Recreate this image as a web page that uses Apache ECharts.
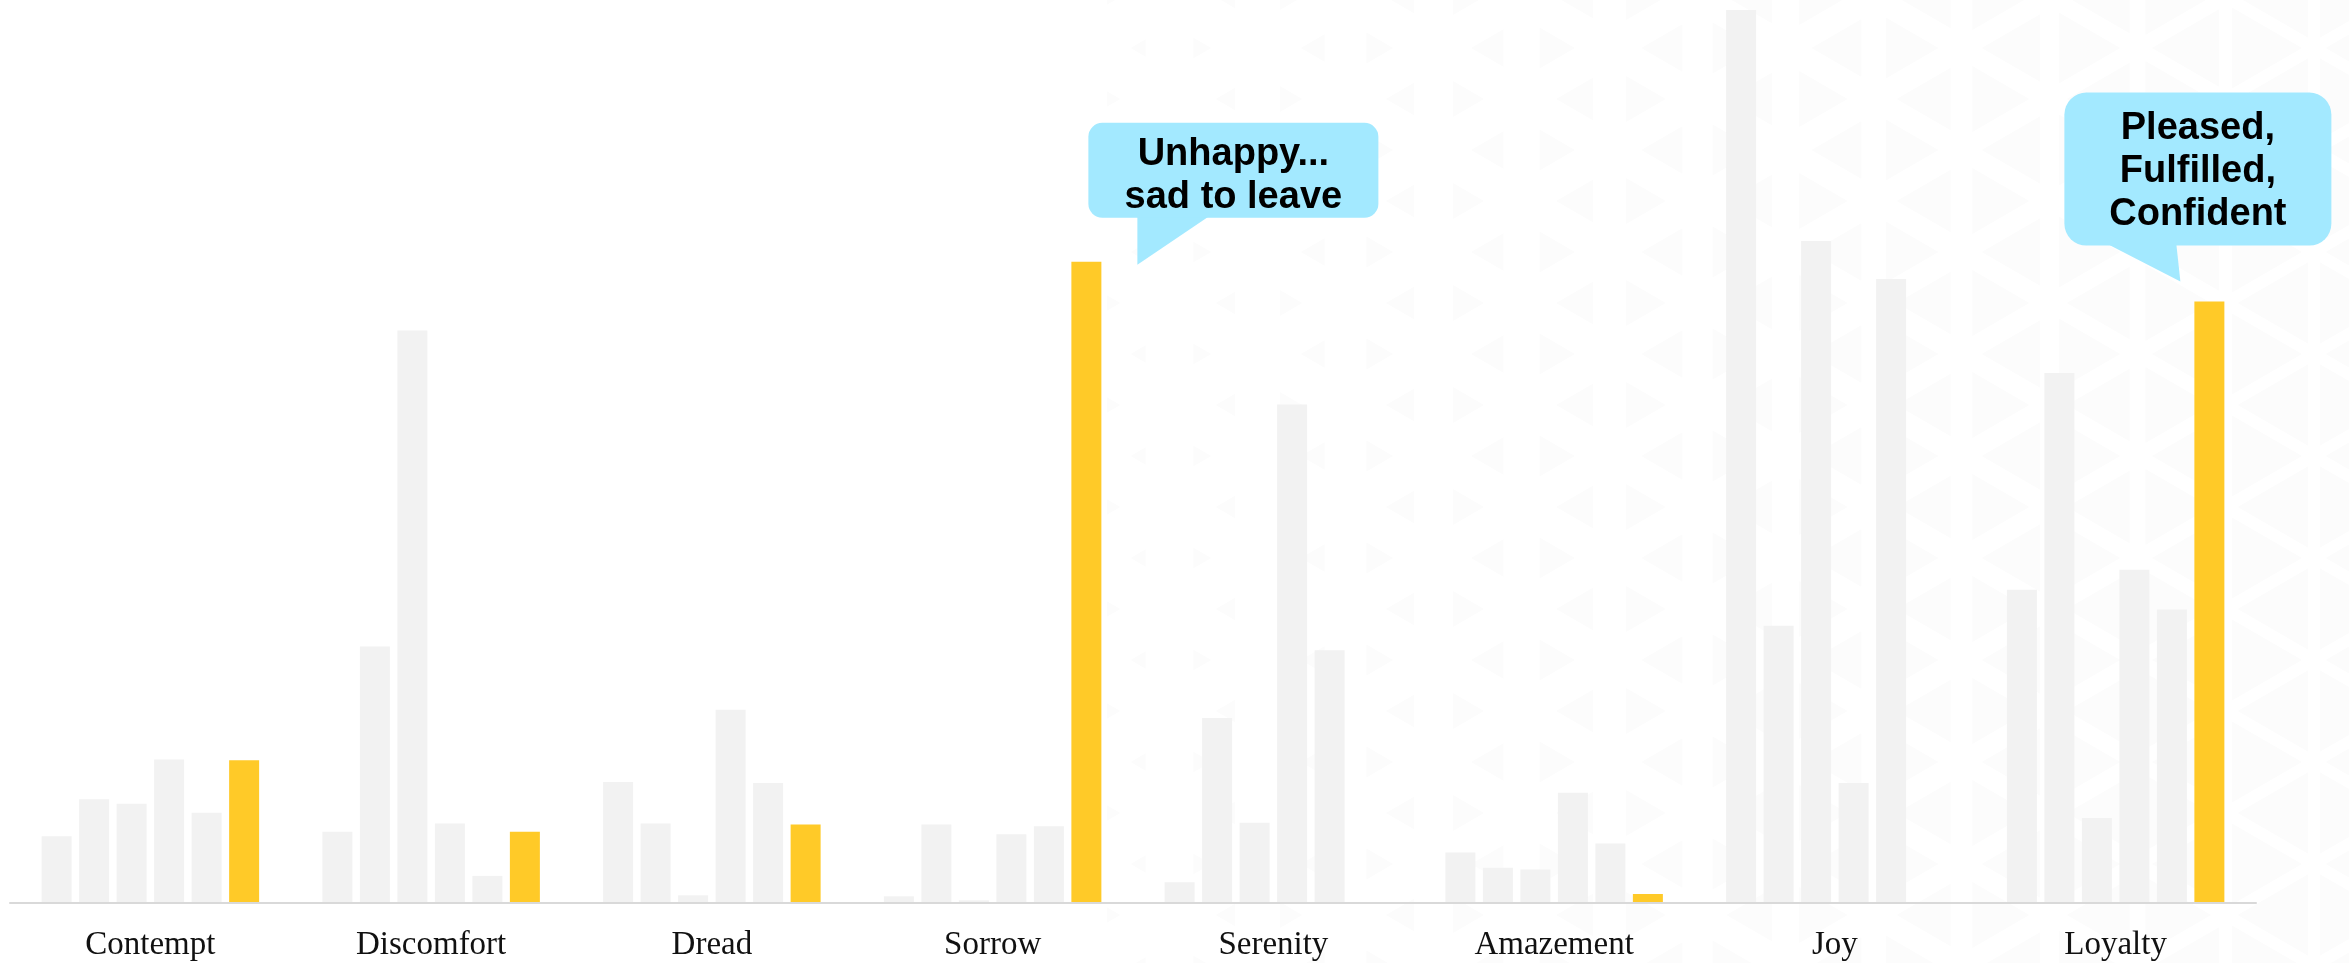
<!DOCTYPE html>
<html>
<head>
<meta charset="utf-8">
<title>Emotions by segment</title>
<script src="https://cdn.jsdelivr.net/npm/echarts@6/dist/echarts.min.js"></script>
<style>
  html, body { margin: 0; padding: 0; background: #ffffff; }
  #chart { width: 2349px; height: 963px; }
</style>
</head>
<body>
<div id="chart"></div>
<script>
// Emotion categories along the x axis
const categories = ['Contempt', 'Discomfort', 'Dread', 'Sorrow', 'Serenity', 'Amazement', 'Joy', 'Loyalty'];

// Share of responses per emotion (0–100 scale), five comparison groups and the highlighted group
const segmentA = [7.4, 7.9, 13.4, 0.74, 2.3, 5.6, 98.9, 34.7];
const segmentB = [11.5, 28.4, 8.8, 8.7, 20.5, 3.9, 30.7, 58.7];
const segmentC = [11.0, 63.4, 0.85, 0.3, 8.9, 3.7, 73.3, 9.4];
const segmentD = [15.9, 8.8, 21.4, 7.6, 55.2, 12.2, 13.3, 36.9];
const segmentE = [10.0, 3.0, 13.3, 8.5, 28.0, 6.6, 69.1, 32.5];
const departing = [15.8, 7.9, 8.7, 71.0, 0, 1.0, 0, 66.6];

// Speech-bubble notes attached to highlighted bars
const notes = [
  { category: 'Sorrow', text: 'Unhappy...\nsad to leave' },
  { category: 'Loyalty', text: 'Pleased,\nFulfilled,\nConfident' }
];

const GREY = '#f2f2f2';
const GOLD = '#ffca28';
const BUBBLE = '#a3e9ff';
const BAR_W = 30;
const BAR_GAP = 0.25;

const chart = echarts.init(document.getElementById('chart'), null, { renderer: 'canvas' });

const groups = [
  { name: 'Segment A', data: segmentA, color: GREY },
  { name: 'Segment B', data: segmentB, color: GREY },
  { name: 'Segment C', data: segmentC, color: GREY },
  { name: 'Segment D', data: segmentD, color: GREY },
  { name: 'Segment E', data: segmentE, color: GREY },
  { name: 'Departing', data: departing, color: GOLD }
];

chart.setOption({
  backgroundColor: 'transparent',
  animation: false,
  grid: { left: 10, right: 93, top: 0, bottom: 60, containLabel: false },
  xAxis: {
    type: 'category',
    data: categories,
    z: 3,
    axisLine: { show: true, lineStyle: { color: '#d9d9d9', width: 2 } },
    axisTick: { show: false },
    axisLabel: {
      interval: 0,
      margin: 26,
      color: '#111111',
      fontFamily: '"Liberation Serif", "DejaVu Serif", serif',
      fontSize: 33
    },
    splitLine: { show: false }
  },
  yAxis: {
    type: 'value',
    min: 0,
    max: 100,
    show: false,
    splitLine: { show: false }
  },
  series: groups.map(g => ({
    name: g.name,
    type: 'bar',
    data: g.data,
    barWidth: BAR_W,
    barGap: (BAR_GAP * 100) + '%',
    itemStyle: { color: g.color },
    emphasis: { disabled: true }
  }))
});

// Faint triangular lattice behind the right half of the plot
function latticeGraphics() {
  const els = [];
  const stripW = 88, side = 102, rowStep = 51;
  const x0 = 1082, y0 = 48;
  for (let j = 0; x0 + j * stripW < 2349 + stripW; j++) {
    const L = x0 + j * stripW;
    for (let k = -1; y0 + k * rowStep < 963 + rowStep; k++) {
      const cy = y0 + k * rowStep;
      const pointsLeft = (((j + k) % 2) + 2) % 2 === 0;
      let pts, cx;
      if (pointsLeft) {
        pts = [[L + stripW, cy - side / 2], [L + stripW, cy + side / 2], [L, cy]];
        cx = L + stripW * 2 / 3;
      } else {
        pts = [[L, cy - side / 2], [L, cy + side / 2], [L + stripW, cy]];
        cx = L + stripW / 3;
      }
      let f = 0.17 + 0.00056 * (cx - 1140);
      f = Math.max(0.08, Math.min(0.8, f));
      const scaled = pts.map(p => [cx + (p[0] - cx) * f, cy + (p[1] - cy) * f]);
      els.push({
        type: 'polygon',
        silent: true,
        z: 0,
        shape: { points: scaled },
        style: { fill: '#fcfcfc' }
      });
    }
  }
  return els;
}

// Bubble geometry is expressed relative to the tip of its tail
const bubbleShapes = {
  Sorrow: {
    tipFromBar: [51, 3],
    box: { x: -49, y: -142, width: 290, height: 95, r: 14 },
    tail: [[0, -48], [71, -48], [0, 0]],
    textAt: [96, -89]
  },
  Loyalty: {
    tipFromBar: [-29, -20],
    box: { x: -116, y: -189, width: 267, height: 153, r: 22 },
    tail: [[-72, -37], [-4, -37], [0, 0]],
    textAt: [17.5, -110]
  }
};

function bubbleGraphics() {
  const nSeries = groups.length;
  const groupW = nSeries * BAR_W + (nSeries - 1) * BAR_W * BAR_GAP;
  const lastOffset = -groupW / 2 + (nSeries - 1) * BAR_W * (1 + BAR_GAP) + BAR_W / 2;
  return notes.map(n => {
    const idx = categories.indexOf(n.category);
    const p = chart.convertToPixel({ xAxisIndex: 0, yAxisIndex: 0 }, [idx, departing[idx]]);
    const geo = bubbleShapes[n.category];
    const tipX = p[0] + lastOffset + geo.tipFromBar[0];
    const tipY = p[1] + geo.tipFromBar[1];
    return {
      type: 'group',
      x: tipX,
      y: tipY,
      z: 10,
      children: [
        { type: 'polygon', z: 10, shape: { points: geo.tail }, style: { fill: BUBBLE } },
        { type: 'rect', z: 10, shape: geo.box, style: { fill: BUBBLE } },
        {
          type: 'text',
          z: 11,
          x: geo.textAt[0],
          y: geo.textAt[1],
          style: {
            text: n.text,
            fill: '#000000',
            font: 'bold 38px "Liberation Sans", Arial, sans-serif',
            lineHeight: 43,
            align: 'center',
            verticalAlign: 'middle',
            textAlign: 'center',
            textVerticalAlign: 'middle'
          }
        }
      ]
    };
  });
}

chart.setOption({
  graphic: [
    { type: 'group', z: 0, silent: true, children: latticeGraphics() }
  ].concat(bubbleGraphics())
});
</script>
</body>
</html>
